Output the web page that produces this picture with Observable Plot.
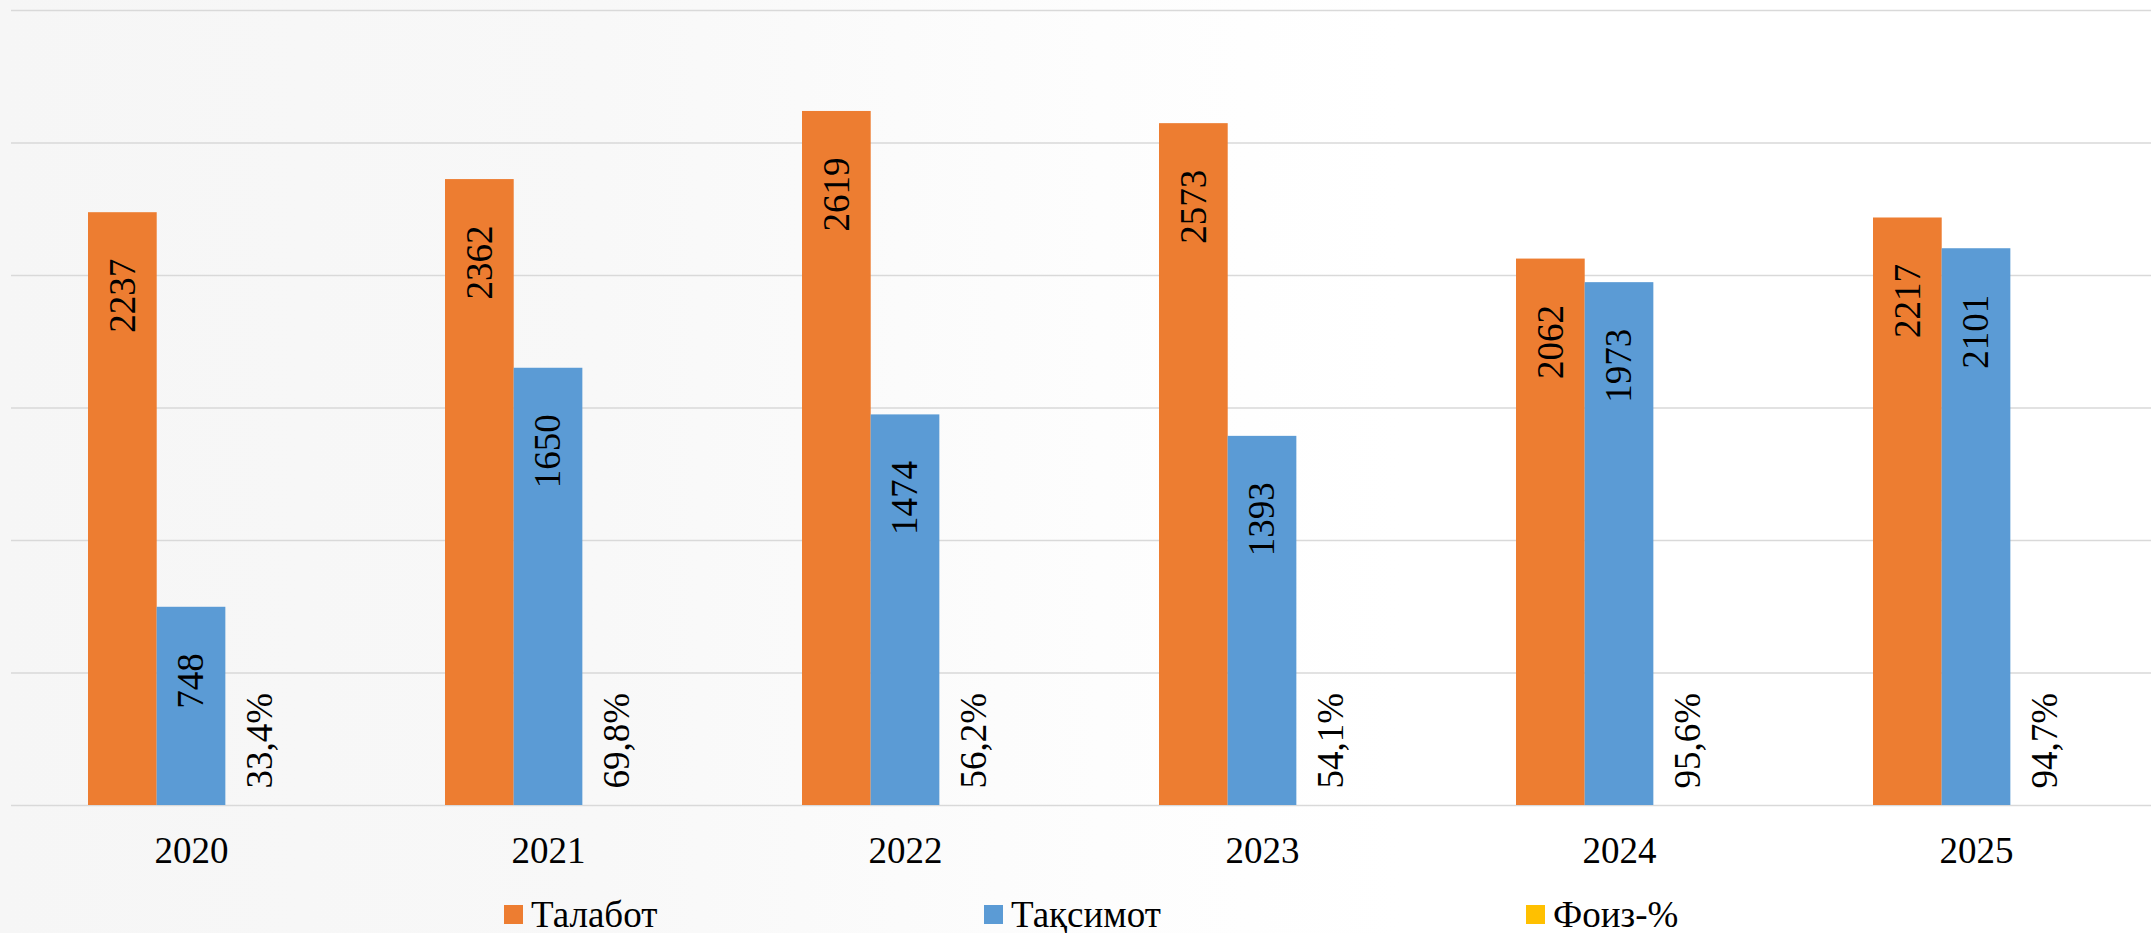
<!DOCTYPE html>
<html>
<head>
<meta charset="utf-8">
<script src="https://cdn.jsdelivr.net/npm/d3@7"></script>
<script src="https://cdn.jsdelivr.net/npm/@observablehq/plot@0.6"></script>
<style>
  html, body { margin: 0; padding: 0; overflow: hidden; }
  body {
    width: 2151px; height: 933px;
    background: linear-gradient(to right, #f6f6f6 0px, #f8f8f8 600px, #fdfdfd 1100px, #ffffff 1400px);
    font-family: "Liberation Serif", "DejaVu Serif", serif;
  }
  #chart { position: relative; width: 2151px; height: 880px; }
  #legend { position: relative; width: 2151px; height: 53px; }
  .item { position: absolute; top: 16px; display: flex; align-items: center; font-family: "Liberation Serif", "DejaVu Serif", serif; font-size: 37px; line-height: 37px; color: #000; white-space: nowrap; }
  .sw { width: 19px; height: 19px; margin-right: 8px; }
</style>
</head>
<body>
<div id="chart"></div>
<div id="legend"></div>
<script>
// ---- data ----
const years = ["2020", "2021", "2022", "2023", "2024", "2025"];
const talabot = [2237, 2362, 2619, 2573, 2062, 2217];   // Талабот
const taqsimot = [748, 1650, 1474, 1393, 1973, 2101];   // Тақсимот
const foiz = [33.4, 69.8, 56.2, 54.1, 95.6, 94.7];      // Фоиз-%
const seriesNames = ["Талабот", "Тақсимот", "Фоиз-%"];
const seriesColors = ["#ED7D31", "#5B9BD5", "#FFC000"];
const yTicks = [0, 500, 1000, 1500, 2000, 2500, 3000];

const rows = years.map((year, i) => ({
  year,
  talabot: talabot[i],
  taqsimot: taqsimot[i],
  foizShare: foiz[i] / 100,
  foizLabel: foiz[i].toFixed(1).replace(".", ",") + "%"
}));

// ---- layout ----
const W = 2151, H = 880;
const xRange = [11, 2156];
const padIn = 0.424, padOut = 0.2117;
const bw = d3.scaleBand().domain(years).range(xRange).paddingInner(padIn).paddingOuter(padOut).bandwidth();
const w = bw / 3;
const font = "'Liberation Serif', 'DejaVu Serif', serif";

const chart = Plot.plot({
  width: W,
  height: H,
  marginTop: 10,
  marginBottom: 75,
  marginLeft: 11,
  marginRight: 0,
  style: { background: "transparent", fontFamily: font, fontSize: "37px", color: "#000", overflow: "visible" },
  x: { type: "band", domain: years, range: xRange, paddingInner: padIn, paddingOuter: padOut, label: null, tickSize: 0, tickPadding: 31 },
  y: { domain: [0, 3000], axis: null },
  marks: [
    Plot.ruleY(yTicks, { stroke: "#d9d9d9", strokeWidth: 1.5 }),
    Plot.barY(rows, { x: "year", y: "talabot", fill: seriesColors[0], insetRight: 2 * w }),
    Plot.barY(rows, { x: "year", y: "taqsimot", fill: seriesColors[1], insetLeft: w, insetRight: w }),
    Plot.barY(rows, { x: "year", y: "foizShare", fill: seriesColors[2], insetLeft: 2 * w, shapeRendering: "crispEdges" }),
    Plot.text(rows, { x: "year", y: "talabot", text: d => String(d.talabot), rotate: -90, textAnchor: "end", lineAnchor: "middle", dx: -w, dy: 46, fontSize: 37, fontFamily: font, fill: "#000" }),
    Plot.text(rows, { x: "year", y: "taqsimot", text: d => String(d.taqsimot), rotate: -90, textAnchor: "end", lineAnchor: "middle", dx: 0, dy: 46, fontSize: 37, fontFamily: font, fill: "#000" }),
    Plot.text(rows, { x: "year", y: () => 0, text: "foizLabel", rotate: -90, textAnchor: "start", lineAnchor: "middle", dx: w, dy: -17, fontSize: 37, fontFamily: font, fill: "#000" })
  ]
});
document.getElementById("chart").appendChild(chart);

// ---- legend ----
const legendLeft = [504, 984, 1526];
const legend = document.getElementById("legend");
seriesNames.forEach((name, i) => {
  const item = document.createElement("div");
  item.className = "item";
  item.style.left = legendLeft[i] + "px";
  const sw = document.createElement("span");
  sw.className = "sw";
  sw.style.background = seriesColors[i];
  const label = document.createElement("span");
  label.textContent = name;
  item.appendChild(sw);
  item.appendChild(label);
  legend.appendChild(item);
});
</script>
</body>
</html>
